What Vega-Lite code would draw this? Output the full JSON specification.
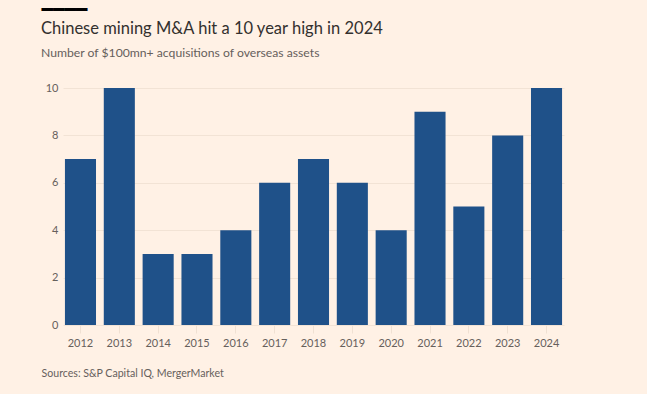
{
  "$schema": "https://vega.github.io/schema/vega-lite/v6.json",
  "autosize": {"type": "none"},
  "width": 501,
  "height": 237,
  "padding": {"left": 63, "top": 88, "right": 83, "bottom": 69},
  "background": "#FFF1E5",
  "title": {
    "text": "Chinese mining M&A hit a 10 year high in 2024",
    "subtitle": "Number of $100mn+ acquisitions of overseas assets",
    "anchor": "start",
    "frame": "group",
    "dx": -22,
    "offset": -59,
    "font": "Lato",
    "fontSize": 16.5,
    "fontWeight": "normal",
    "color": "#33302E",
    "subtitleFont": "Lato",
    "subtitleFontSize": 12.2,
    "subtitleColor": "#66605C",
    "subtitlePadding": 9
  },
  "data": {
    "values": [
      {"year": "2012", "deals": 7},
      {"year": "2013", "deals": 10},
      {"year": "2014", "deals": 3},
      {"year": "2015", "deals": 3},
      {"year": "2016", "deals": 4},
      {"year": "2017", "deals": 6},
      {"year": "2018", "deals": 7},
      {"year": "2019", "deals": 6},
      {"year": "2020", "deals": 4},
      {"year": "2021", "deals": 9},
      {"year": "2022", "deals": 5},
      {"year": "2023", "deals": 8},
      {"year": "2024", "deals": 10}
    ]
  },
  "mark": {"type": "bar", "color": "#1F5189"},
  "encoding": {
    "x": {
      "field": "year",
      "type": "ordinal",
      "scale": {"paddingInner": 0.2, "paddingOuter": 0.05},
      "axis": {
        "title": "Sources: S&P Capital IQ, MergerMarket",
        "titleFont": "Lato",
        "titleFontSize": 10.6,
        "titleFontWeight": "normal",
        "titleColor": "#66605C",
        "titleAnchor": "start",
        "titleAlign": "left",
        "titleBaseline": "middle",
        "titleX": -22,
        "titleY": 48,
        "labelAngle": 0,
        "labelFont": "Lato",
        "labelFontSize": 11,
        "labelColor": "#66605C",
        "labelPadding": 4,
        "domain": false,
        "ticks": true,
        "tickSize": 8,
        "tickColor": "#F0E1D3",
        "grid": false
      }
    },
    "y": {
      "field": "deals",
      "type": "quantitative",
      "scale": {"domain": [0, 10]},
      "axis": {
        "values": [0, 2, 4, 6, 8, 10],
        "title": "━━━━",
        "titleFont": "DejaVu Sans",
        "titleFontSize": 19,
        "titleFontWeight": "normal",
        "titleColor": "#000000",
        "titleAngle": 0,
        "titleAlign": "left",
        "titleBaseline": "middle",
        "titleX": -22,
        "titleY": -79,
        "labelFont": "Lato",
        "labelFontSize": 11,
        "labelColor": "#66605C",
        "labelPadding": 5,
        "domain": false,
        "ticks": false,
        "grid": true,
        "gridColor": "#F2E3D5"
      }
    }
  },
  "config": {"view": {"stroke": null}}
}
